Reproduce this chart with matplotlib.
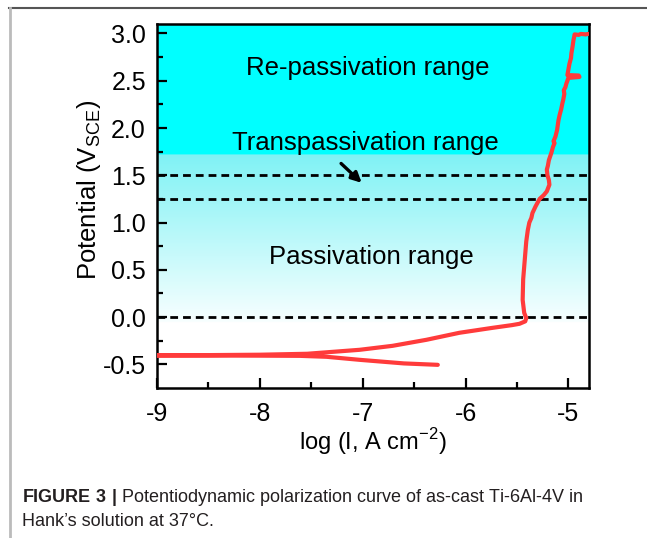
import matplotlib
matplotlib.use("Agg")
import matplotlib.pyplot as plt
import numpy as np
from matplotlib.lines import Line2D

plt.rcParams['font.family'] = ['Liberation Sans', 'DejaVu Sans']
plt.rcParams['mathtext.fontset'] = 'custom'
plt.rcParams['mathtext.rm'] = 'Liberation Sans'
plt.rcParams['mathtext.bf'] = 'Liberation Sans:bold'

# Polarization curve: log current density (A cm^-2) vs potential (V vs SCE)
log_i = [-6.27, -6.60, -7.03, -7.35, -7.61, -8.00, -8.50, -9.00, -9.30,
         -9.00, -8.50, -8.00, -7.54, -7.03, -6.71, -6.38, -6.06, -5.74,
         -5.55, -5.476, -5.42, -5.41, -5.43, -5.445, -5.44, -5.425, -5.41,
         -5.395, -5.38, -5.36, -5.35, -5.32, -5.28, -5.24, -5.21, -5.185,
         -5.19, -5.204, -5.21, -5.20, -5.19, -5.165, -5.15, -5.135, -5.145,
         -5.126, -5.11, -5.097, -5.085, -5.07, -5.058, -5.05, -5.04, -5.045,
         -5.03, -5.02, -5.00, -4.893, -4.90, -5.01, -5.00, -4.99, -4.975,
         -4.971, -4.96, -4.951, -4.945, -4.94, -4.90, -4.88, -4.83, -4.81]
potential = [-0.505, -0.49, -0.452, -0.42, -0.41, -0.408, -0.407, -0.406, -0.405,
             -0.404, -0.402, -0.398, -0.388, -0.346, -0.304, -0.240, -0.166, -0.114,
             -0.085, -0.071, -0.045, -0.01, 0.045, 0.182, 0.40, 0.60, 0.80,
             0.92, 1.00, 1.05, 1.10, 1.17, 1.25, 1.29, 1.33, 1.40,
             1.45, 1.50, 1.56, 1.60, 1.66, 1.74, 1.80, 1.84, 1.86,
             1.91, 1.98, 2.08, 2.14, 2.20, 2.265, 2.30, 2.36, 2.40,
             2.43, 2.47, 2.53, 2.54, 2.555, 2.56, 2.62, 2.68, 2.74,
             2.79, 2.86, 2.93, 2.96, 2.99, 2.985, 2.995, 2.99, 2.995]

# Boundaries between the labelled potential ranges
boundaries = [1.5, 1.25, 0.0]
repassivation_edge = 1.72

x_ticks = [-9, -8, -7, -6, -5]
y_ticks = [-0.5, 0.0, 0.5, 1.0, 1.5, 2.0, 2.5, 3.0]
xlim = (-9, -4.8)
ylim = (-0.75, 3.1)

fig = plt.figure(figsize=(6.47, 5.38), dpi=100)
ax = fig.add_axes([157/647, 1 - 388/538, 432/647, 364/538])

# Background shading: solid cyan above the re-passivation edge,
# fading to white towards 0 V below it
ys = np.linspace(ylim[0], ylim[1], 600)
rgb = np.ones((len(ys), 1, 3))
top = ys >= repassivation_edge
rgb[top] = [0.0, 1.0, 1.0]
mid = (ys < repassivation_edge) & (ys >= -0.05)
t = (ys[mid] - (-0.05)) / (repassivation_edge + 0.05)
c_low = np.array([0.97, 1.0, 1.0])
c_high = np.array([0.50, 0.95, 0.96])
rgb[mid, 0, :] = c_low + (c_high - c_low) * t[:, None]
ax.imshow(rgb, extent=[xlim[0], xlim[1], ylim[0], ylim[1]], origin='lower',
          aspect='auto', zorder=0, interpolation='bilinear')

for b in boundaries:
    ax.axhline(b, color='black', lw=2.0, dashes=(2.8, 1.8), zorder=2)

ax.plot(log_i, potential, color='#ff3b3b', lw=3.0, zorder=3,
        solid_joinstyle='round', solid_capstyle='round')

ax.set_xlim(*xlim)
ax.set_ylim(*ylim)
ax.set_xticks(x_ticks)
ax.set_xticklabels([str(v) for v in x_ticks])
ax.set_yticks(y_ticks)
ax.set_yticklabels([f"{v:.1f}" for v in y_ticks])
ax.set_xticks(np.arange(-8.5, -4.8, 1.0), minor=True)
ax.set_yticks(np.arange(-0.25, 3.1, 0.5), minor=True)
ax.tick_params(which='both', direction='in', width=1.6, labelsize=18)
ax.tick_params(axis='x', which='major', pad=10)
ax.tick_params(axis='y', which='major', pad=8)
ax.tick_params(which='major', length=7)
ax.tick_params(which='minor', length=4)
for s in ax.spines.values():
    s.set_linewidth(1.8)

ax.set_xlabel("log (I, A cm$^{-2}$)", fontsize=17, labelpad=0)
ax.set_ylabel("Potential (V$_{\\rm SCE}$)", fontsize=18.5)
ax.yaxis.set_label_coords(-0.125, 0.545)

label_kw = dict(fontsize=18.5, ha='center', va='center', zorder=4)
ax.text(-6.95, 2.635, "Re-passivation range", **label_kw)
ax.text(-6.97, 1.84, "Transpassivation range", **label_kw)
ax.text(-6.92, 0.637, "Passivation range", **label_kw)
ax.annotate("", xy=(-6.99, 1.40), xytext=(-7.23, 1.645),
            arrowprops=dict(arrowstyle='-|>', color='black', lw=2.4,
                            mutation_scale=15), zorder=4)

# Figure frame and caption
fig.add_artist(Line2D([9/647, 1.0], [1 - 8/538, 1 - 8/538], color='#555555', lw=1.5))
fig.add_artist(Line2D([9.5/647, 9.5/647], [0, 1 - 8/538], color='#bbbbbb', lw=2.0))
fig.text(22/647, 1 - 497/538,
         r"$\bf{FIGURE\ 3\ |}$ Potentiodynamic polarization curve of as-cast Ti-6Al-4V in",
         fontsize=13, va='center', ha='left', color='#231f20')
fig.text(22/647, 1 - 521/538, "Hank\u2019s solution at 37\u00b0C.",
         fontsize=13, va='center', ha='left', color='#231f20')

fig.savefig("out.png", dpi=100)
